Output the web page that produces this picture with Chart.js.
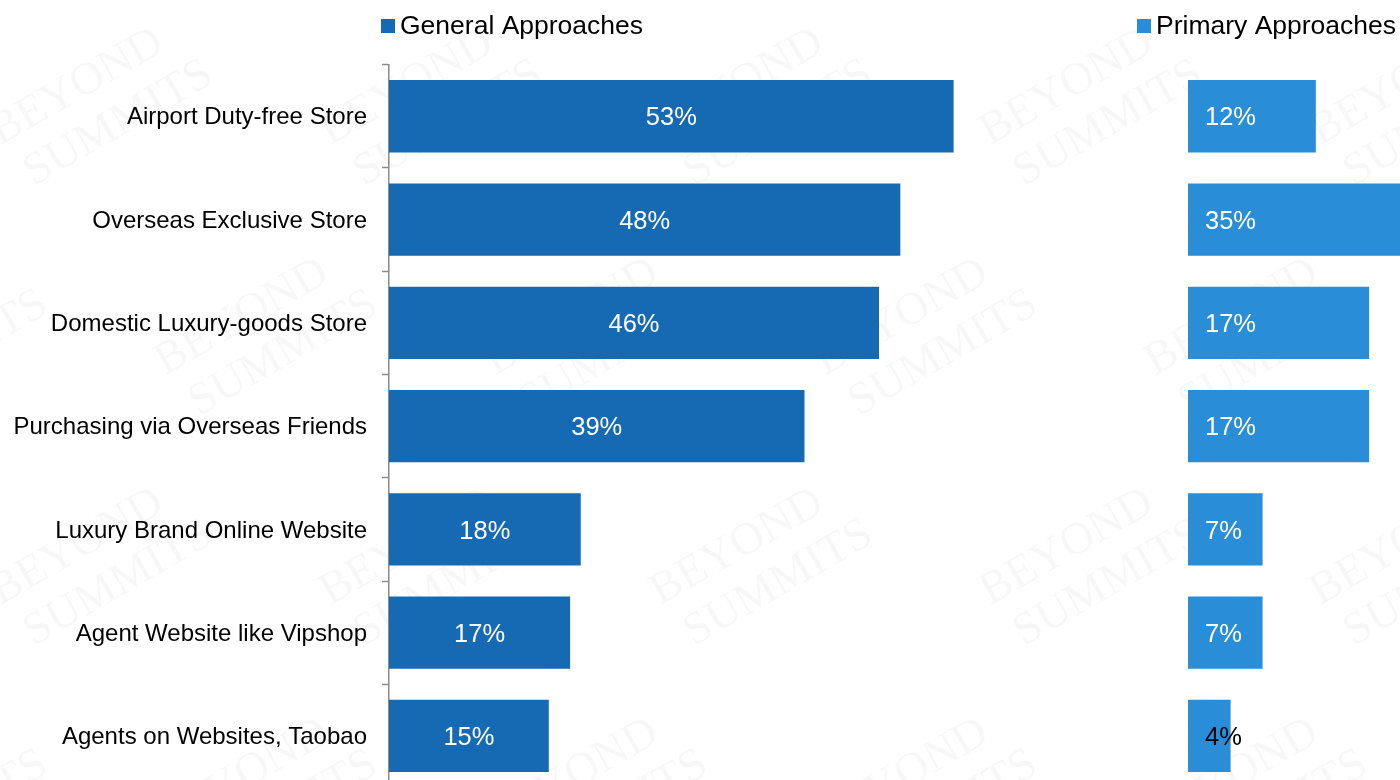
<!DOCTYPE html>
<html>
<head>
<meta charset="utf-8">
<title>Purchase Approaches</title>
<script src="https://cdn.jsdelivr.net/npm/chart.js@4.4.0/dist/chart.umd.min.js"></script>
<style>
  html, body { margin: 0; padding: 0; background: #ffffff; overflow: hidden; width: 1400px; height: 780px; }
  canvas { display: block; }
</style>
</head>
<body>
<canvas id="chart" width="1400" height="817"></canvas>
<script>
// Purchase channels
const categories = [
  'Airport Duty-free Store',
  'Overseas Exclusive Store',
  'Domestic Luxury-goods Store',
  'Purchasing via Overseas Friends',
  'Luxury Brand Online Website',
  'Agent Website like Vipshop',
  'Agents on Websites, Taobao'
];
// Share of respondents (%)
const generalValues = [53, 48, 46, 39, 18, 17, 15];
const primaryValues = [12, 35, 17, 17, 7, 7, 4];
const seriesNames = ['General Approaches', 'Primary Approaches'];
const seriesColors = ['#166AB3', '#298DD8'];
const watermarkWords = ['BEYOND', 'SUMMITS'];

const FONT = "'Liberation Sans', Arial, Helvetica, sans-serif";
const LABEL_SIZE = 25.5;

// Faint repeating brand mark behind the chart
const watermarkPlugin = {
  id: 'watermark',
  beforeDraw(chart) {
    const ctx = chart.ctx;
    ctx.save();
    ctx.fillStyle = '#ffffff';
    ctx.fillRect(0, 0, chart.width, chart.height);
    ctx.fillStyle = 'rgba(0,0,0,0.03)';
    ctx.font = "46px 'Liberation Serif', 'DejaVu Serif', serif";
    ctx.textAlign = 'center';
    ctx.textBaseline = 'middle';
    for (let row = -1; row < 5; row++) {
      for (let col = -1; col < 6; col++) {
        const cx = col * 330 + (row % 2 ? 165 : 0) + 90;
        const cy = row * 230 + 110;
        ctx.save();
        ctx.translate(cx, cy);
        ctx.rotate(-Math.PI / 6);
        ctx.fillText(watermarkWords[0], 0, -26);
        ctx.fillText(watermarkWords[1], 18, 26);
        ctx.restore();
      }
    }
    ctx.restore();
  }
};

// Legend entries placed above each column of bars
const sideLegendPlugin = {
  id: 'sideLegend',
  afterDraw(chart, args, opts) {
    const ctx = chart.ctx;
    ctx.save();
    ctx.font = opts.font;
    ctx.textBaseline = 'alphabetic';
    ctx.textAlign = 'left';
    chart.data.datasets.forEach((ds, i) => {
      const x = opts.positions[i];
      ctx.fillStyle = ds.backgroundColor;
      ctx.fillRect(x, opts.boxTop, opts.boxSize, opts.boxSize);
      ctx.fillStyle = '#000000';
      ctx.fillText(ds.label, x + opts.boxSize + 5, opts.textBaseline);
    });
    ctx.restore();
  }
};

// Percentage labels on the bars (digits centred on the bar's midline)
const barLabelPlugin = {
  id: 'barLabels',
  afterDatasetsDraw(chart, args, opts) {
    const ctx = chart.ctx;
    ctx.save();
    ctx.font = opts.size + 'px ' + FONT;
    ctx.textBaseline = 'alphabetic';
    const drop = opts.size * 0.716 / 2;
    chart.data.datasets.forEach((ds, di) => {
      const meta = chart.getDatasetMeta(di);
      meta.data.forEach((bar, i) => {
        const text = ds.data[i] + '%';
        const left = Math.min(bar.x, bar.base);
        const right = Math.max(bar.x, bar.base);
        const y = bar.y + drop;
        if (ds.labelAlign === 'start') {
          const w = ctx.measureText(text).width;
          ctx.textAlign = 'left';
          ctx.fillStyle = (w + opts.inset > right - left) ? '#000000' : '#ffffff';
          ctx.fillText(text, left + opts.inset, y);
        } else {
          ctx.textAlign = 'center';
          ctx.fillStyle = '#ffffff';
          ctx.fillText(text, (left + right) / 2, y);
        }
      });
    });
    ctx.restore();
  }
};

new Chart(document.getElementById('chart'), {
  type: 'bar',
  data: {
    labels: categories,
    datasets: [
      {
        label: seriesNames[0],
        data: generalValues,
        backgroundColor: seriesColors[0],
        xAxisID: 'x',
        grouped: false,
        labelAlign: 'center'
      },
      {
        label: seriesNames[1],
        data: primaryValues,
        backgroundColor: seriesColors[1],
        xAxisID: 'x2',
        grouped: false,
        labelAlign: 'start'
      }
    ]
  },
  options: {
    indexAxis: 'y',
    responsive: false,
    animation: false,
    devicePixelRatio: 1,
    layout: { padding: { top: 64.6, bottom: 13, left: 0, right: 0 } },
    datasets: {
      bar: { barPercentage: 0.70, categoryPercentage: 1.0, borderWidth: 0 }
    },
    scales: {
      x: { display: false, min: 0, max: 94.9 },
      x2: { display: false, min: -75, max: 19.9, position: 'bottom' },
      y: {
        afterFit(scale) { scale.width = 389; },
        ticks: {
          color: '#000000',
          font: { family: FONT, size: 24 },
          padding: 15,
          labelOffset: 1.5
        },
        grid: {
          drawOnChartArea: false,
          drawTicks: true,
          tickLength: 7,
          tickColor: '#8c8c8c',
          tickWidth: 1.5,
          offset: true
        },
        border: { display: true, color: '#8c8c8c', width: 1.5 }
      }
    },
    plugins: {
      legend: { display: false },
      tooltip: { enabled: false },
      sideLegend: {
        font: '26.5px ' + FONT,
        positions: [381, 1137],
        boxTop: 19,
        boxSize: 14,
        textBaseline: 34
      },
      barLabels: {
        size: LABEL_SIZE,
        inset: 17
      }
    }
  },
  plugins: [watermarkPlugin, sideLegendPlugin, barLabelPlugin]
});
</script>
</body>
</html>
